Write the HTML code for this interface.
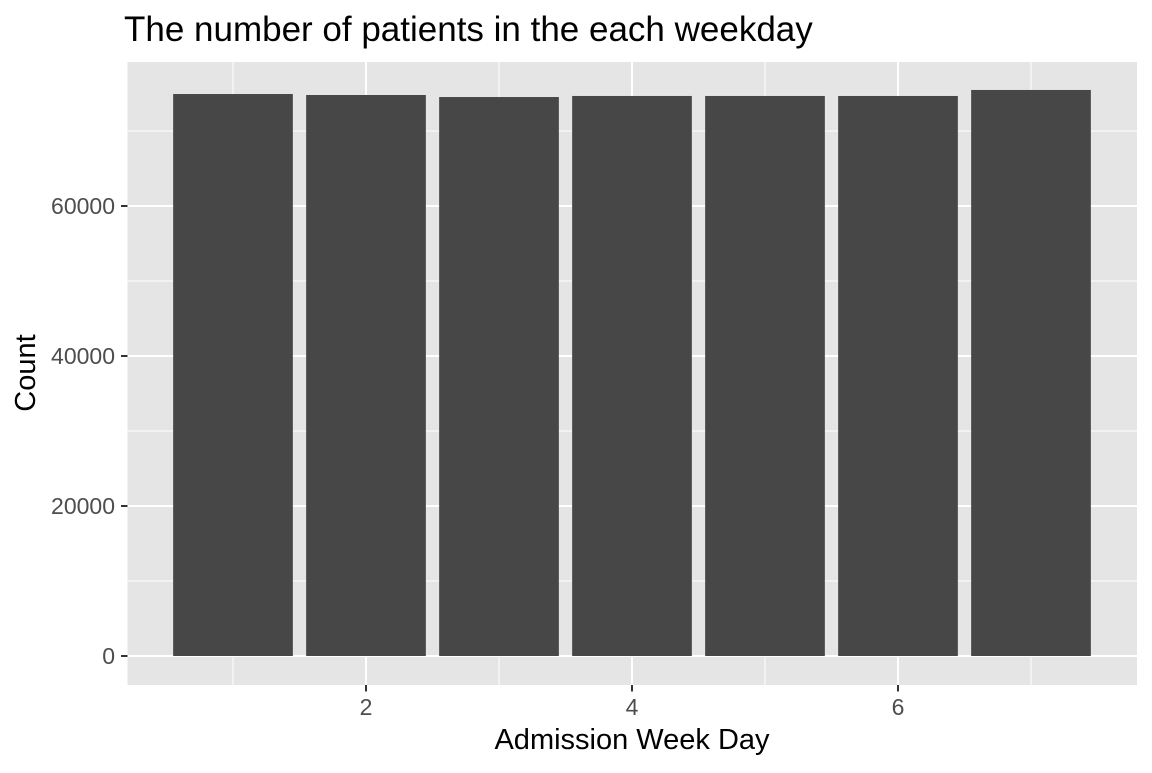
<!DOCTYPE html>
<html><head><meta charset="utf-8"><style>
body{margin:0;background:#fff;font-family:"Liberation Sans",Arial,sans-serif}
</style></head><body>
<svg width="1152" height="768" xmlns="http://www.w3.org/2000/svg">
<text x="124" y="41" font-size="35" fill="#000">The number of patients in the each weekday</text>
<rect x="127.5" y="62" width="1009.5" height="623" fill="#e5e5e5"/>
<g id="grid"></g>
<g id="bars"></g>
<g id="axes"></g>
<text x="632" y="749" font-size="29" text-anchor="middle" fill="#000">Admission Week Day</text>
<text transform="translate(35,373) rotate(-90)" font-size="29" text-anchor="middle" fill="#000">Count</text>
</svg>
<script>
const days=[1,2,3,4,5,6,7];
const counts=[74930,74800,74530,74670,74670,74670,75470];
const yTicks=[0,20000,40000,60000];
const yMinor=[10000,30000,50000,70000];
const xTicks=[2,4,6];
const xMinor=[1,3,5,7];
const ns="http://www.w3.org/2000/svg";
const X=v=>100+133*v;
const Y=v=>656-v*0.0075;
function mk(p,t,a){const e=document.createElementNS(ns,t);for(const k in a)e.setAttribute(k,a[k]);p.appendChild(e);return e;}
const grid=document.getElementById('grid'),bars=document.getElementById('bars'),axes=document.getElementById('axes');
yMinor.forEach(v=>{const l=mk(grid,'line',{x1:127.5,x2:1137,y1:Y(v),y2:Y(v),stroke:'#fff','stroke-width':1});

});
xMinor.forEach(v=>{const l=mk(grid,'line',{x1:X(v),x2:X(v),y1:62,y2:685,stroke:'#fff','stroke-width':1});

});
yTicks.forEach(v=>{const l=mk(grid,'line',{x1:127.5,x2:1137,y1:Y(v),y2:Y(v),stroke:'#fff','stroke-width':2});


const t=mk(axes,'line',{x1:121,x2:127.5,y1:Y(v),y2:Y(v),stroke:'#333','stroke-width':2});


const tx=mk(axes,'text',{x:115,y:Y(v)+8,'font-size':23,'text-anchor':'end',fill:'#4d4d4d'});tx.textContent=v;

});
xTicks.forEach(v=>{const l=mk(grid,'line',{x1:X(v),x2:X(v),y1:62,y2:685,stroke:'#fff','stroke-width':2});


const t=mk(axes,'line',{x1:X(v),x2:X(v),y1:685,y2:691.5,stroke:'#333','stroke-width':2});


const tx=mk(axes,'text',{x:X(v),y:715,'font-size':23,'text-anchor':'middle',fill:'#4d4d4d'});tx.textContent=v;

});
days.forEach((d,i)=>{const r=mk(bars,'rect',{x:X(d-0.45),width:133*0.9,y:Y(counts[i]),height:Y(0)-Y(counts[i]),fill:'#474747'});

});
</script>
</body></html>
